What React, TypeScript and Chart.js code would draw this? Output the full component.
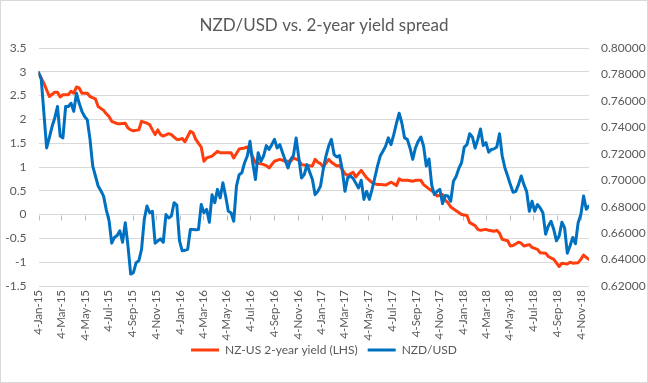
import React, { useEffect, useRef } from "react";
import { Chart, registerables } from "chart.js";

Chart.register(...registerables);

// ---- data ----
const startDate = "4-Jan-15"; // week 0 of the weekly series

const tickLabels = [
  "4-Jan-15", "4-Mar-15", "4-May-15", "4-Jul-15", "4-Sep-15", "4-Nov-15",
  "4-Jan-16", "4-Mar-16", "4-May-16", "4-Jul-16", "4-Sep-16", "4-Nov-16",
  "4-Jan-17", "4-Mar-17", "4-May-17", "4-Jul-17", "4-Sep-17", "4-Nov-17",
  "4-Jan-18", "4-Mar-18", "4-May-18", "4-Jul-18", "4-Sep-18", "4-Nov-18",
];

const yieldWeeks = [
  0, 2, 4, 6, 7, 8, 9, 11, 12, 13, 14, 15, 16, 18, 19, 21, 22, 24, 25, 26, 27, 29, 30, 32, 33, 34, 35, 37, 38, 40,
  41, 42, 43, 44, 45, 46, 48, 49, 50, 51, 52, 53, 54, 56, 57, 58, 60, 61, 62, 64, 66, 67, 69, 71, 72, 74, 76, 77, 78, 80,
  82, 84, 85, 87, 89, 91, 93, 94, 96, 97, 99, 101, 102, 103, 104, 105, 107, 108, 110, 111, 113, 114, 116, 117, 118, 119, 121, 123, 125, 126,
  128, 130, 131, 132, 133, 134, 136, 138, 139, 141, 142, 144, 146, 147, 149, 150, 151, 152, 154, 156, 158, 159, 161, 162, 163, 165, 166, 168, 169, 170,
  171, 173, 174, 175, 177, 178, 179, 181, 182, 184, 185, 187, 188, 190, 192, 193, 195, 196, 197, 199, 200, 201, 202, 203,
];
const yieldSpread = [
  2.97, 2.76, 2.48, 2.57, 2.57, 2.47, 2.52, 2.52, 2.59, 2.55, 2.68, 2.66, 2.55, 2.55, 2.48, 2.43, 2.27, 2.19, 2.12, 2.06, 1.96, 1.91, 1.91, 1.92, 1.82, 1.78, 1.76, 1.78, 1.96, 1.92,
  1.89, 1.78, 1.68, 1.78, 1.68, 1.65, 1.70, 1.68, 1.63, 1.58, 1.58, 1.60, 1.53, 1.75, 1.72, 1.58, 1.42, 1.12, 1.19, 1.23, 1.33, 1.30, 1.30, 1.30, 1.19, 1.38, 1.40, 1.42, 1.33, 1.09,
  1.07, 1.03, 0.98, 1.12, 1.16, 1.12, 1.12, 1.19, 1.14, 1.05, 1.03, 1.02, 1.16, 1.10, 1.07, 1.00, 1.16, 1.10, 1.02, 1.03, 0.86, 0.82, 0.89, 0.79, 0.86, 0.93, 0.77, 0.67, 0.63, 0.63,
  0.62, 0.68, 0.65, 0.61, 0.75, 0.72, 0.72, 0.70, 0.72, 0.72, 0.63, 0.54, 0.46, 0.39, 0.42, 0.30, 0.25, 0.16, 0.08, 0.00, -0.02, -0.17, -0.23, -0.31, -0.33, -0.31, -0.33, -0.35, -0.33, -0.39,
  -0.52, -0.55, -0.66, -0.65, -0.58, -0.60, -0.66, -0.63, -0.69, -0.73, -0.80, -0.81, -0.88, -0.94, -1.09, -1.02, -1.04, -1.00, -1.02, -1.01, -0.94, -0.85, -0.90, -0.94,
];

const nzdWeeks = [
  0, 1, 3, 4, 5, 6, 7, 8, 9, 10, 11, 12, 13, 14, 15, 16, 17, 18, 19, 20, 21, 22, 23, 24, 25, 26, 27, 28, 29, 30,
  31, 32, 33, 34, 35, 36, 37, 38, 39, 40, 41, 42, 43, 44, 45, 46, 47, 48, 49, 50, 51, 52, 53, 54, 55, 56, 57, 58, 59, 60,
  61, 62, 63, 64, 65, 66, 67, 68, 69, 70, 71, 72, 73, 74, 75, 76, 77, 78, 79, 80, 81, 82, 83, 84, 85, 86, 87, 88, 89, 90,
  92, 93, 94, 95, 96, 97, 98, 99, 101, 102, 103, 104, 105, 106, 107, 108, 109, 110, 111, 112, 113, 114, 115, 116, 117, 118, 119, 120, 121, 122,
  123, 124, 125, 126, 127, 128, 129, 130, 131, 132, 133, 134, 135, 136, 137, 138, 139, 140, 141, 142, 143, 144, 145, 146, 147, 148, 149, 150, 151, 152,
  153, 154, 155, 156, 157, 158, 159, 160, 161, 162, 163, 164, 165, 166, 167, 168, 169, 170, 171, 172, 173, 174, 175, 176, 177, 178, 179, 180, 181, 182,
  183, 184, 185, 186, 187, 188, 189, 190, 191, 192, 193, 194, 195, 196, 197, 198, 199, 200, 201, 202, 203,
];
const nzdUsd = [
  0.7816, 0.7766, 0.7244, 0.7323, 0.7406, 0.7471, 0.7557, 0.7334, 0.7320, 0.7557, 0.7557, 0.7582, 0.7521, 0.7658, 0.7582, 0.7521, 0.7482, 0.7456, 0.7309, 0.7107, 0.7032, 0.6956, 0.6920, 0.6880, 0.6776, 0.6697, 0.6524, 0.6567, 0.6582, 0.6618,
  0.6531, 0.6679, 0.6502, 0.6290, 0.6301, 0.6376, 0.6391, 0.6477, 0.6704, 0.6805, 0.6754, 0.6765, 0.6524, 0.6542, 0.6556, 0.6531, 0.6740, 0.6715, 0.6729, 0.6830, 0.6812, 0.6542, 0.6466, 0.6470, 0.6477, 0.6628, 0.6628, 0.6625, 0.6628, 0.6816,
  0.6754, 0.6780, 0.6682, 0.6891, 0.6830, 0.6931, 0.6866, 0.6981, 0.6880, 0.6765, 0.6754, 0.6690, 0.6956, 0.7042, 0.7057, 0.7132, 0.7183, 0.7294, 0.7132, 0.7006, 0.7208, 0.7143, 0.7183, 0.7262, 0.7233, 0.7269, 0.7309, 0.7244, 0.7269, 0.7208,
  0.7093, 0.7158, 0.7186, 0.7320, 0.7168, 0.7017, 0.7042, 0.7118, 0.7006, 0.6891, 0.6916, 0.6956, 0.7082, 0.7183, 0.7258, 0.7309, 0.7194, 0.7176, 0.7186, 0.7082, 0.6916, 0.7017, 0.7032, 0.7014, 0.6978, 0.6942, 0.7000, 0.6855, 0.6916, 0.6855,
  0.6931, 0.7017, 0.7107, 0.7183, 0.7219, 0.7258, 0.7320, 0.7269, 0.7345, 0.7431, 0.7507, 0.7431, 0.7320, 0.7309, 0.7244, 0.7158, 0.7244, 0.7294, 0.7327, 0.7258, 0.7107, 0.7161, 0.6963, 0.6891, 0.6916, 0.6931, 0.6823, 0.6884, 0.6880, 0.6841,
  0.6992, 0.7028, 0.7089, 0.7132, 0.7251, 0.7269, 0.7352, 0.7327, 0.7244, 0.7309, 0.7388, 0.7262, 0.7284, 0.7212, 0.7233, 0.7237, 0.7251, 0.7352, 0.7183, 0.7093, 0.7032, 0.6967, 0.6909, 0.6916, 0.6967, 0.7032, 0.6967, 0.6916, 0.6765, 0.6841,
  0.6765, 0.6816, 0.6790, 0.6754, 0.6592, 0.6654, 0.6690, 0.6628, 0.6542, 0.6578, 0.6682, 0.6639, 0.6448, 0.6502, 0.6567, 0.6520, 0.6679, 0.6740, 0.6880, 0.6780, 0.6805,
];

// ---- helpers ----
const MONTHS: Record<string, number> = {
  Jan: 0, Feb: 1, Mar: 2, Apr: 3, May: 4, Jun: 5, Jul: 6, Aug: 7, Sep: 8, Oct: 9, Nov: 10, Dec: 11,
};
function toUTC(label: string): number {
  const [d, m, y] = label.split("-");
  return Date.UTC(2000 + Number(y), MONTHS[m], Number(d));
}
const DAY = 86400000;
const t0 = toUTC(startDate);
const dayOf = (label: string) => (toUTC(label) - t0) / DAY;
const tickDays = tickLabels.map(dayOf);
const lastDay = Math.max(yieldWeeks[yieldWeeks.length - 1], nzdWeeks[nzdWeeks.length - 1]) * 7;

const ORANGE = "#FF3D0D";
const BLUE = "#0070C0";
const GRID = "#D9D9D9";
const TEXT = "#595959";
const FONT = "Lato, 'Open Sans', sans-serif";

const zeroTicks = {
  id: "zeroTicks",
  beforeDatasetsDraw(chart: any) {
    const xs = chart.scales.x;
    const ys = chart.scales.yL;
    const ctx = chart.ctx;
    const y0 = Math.round(ys.getPixelForValue(0)) + 0.5;
    ctx.save();
    ctx.strokeStyle = "#BFBFBF";
    ctx.lineWidth = 1;
    ctx.beginPath();
    tickDays.forEach((d) => {
      const px = Math.round(xs.getPixelForValue(d)) + 0.5;
      ctx.moveTo(px, y0);
      ctx.lineTo(px, y0 + 5);
    });
    ctx.stroke();
    ctx.restore();
  },
};

export default function App() {
  const ref = useRef<HTMLCanvasElement | null>(null);

  useEffect(() => {
    if (!ref.current) return;
    const chart = new Chart(ref.current, {
      type: "line",
      data: {
        datasets: [
          {
            label: "NZ-US 2-year yield (LHS)",
            data: yieldWeeks.map((w, i) => ({ x: w * 7, y: yieldSpread[i] })),
            borderColor: ORANGE,
            backgroundColor: ORANGE,
            borderWidth: 3,
            pointRadius: 0,
            tension: 0,
            yAxisID: "yL",
            order: 1,
            borderJoinStyle: "round",
            borderCapStyle: "round",
          },
          {
            label: "NZD/USD",
            data: nzdWeeks.map((w, i) => ({ x: w * 7, y: nzdUsd[i] })),
            borderColor: BLUE,
            backgroundColor: BLUE,
            borderWidth: 3,
            pointRadius: 0,
            tension: 0,
            yAxisID: "yR",
            order: 0,
            borderJoinStyle: "round",
            borderCapStyle: "round",
          },
        ],
      },
      options: {
        animation: false,
        responsive: false,
        maintainAspectRatio: false,
        layout: { padding: { top: 0, left: 0, right: 0, bottom: 16 } },
        scales: {
          x: {
            type: "linear",
            min: 0,
            max: lastDay,
            grid: { display: false, drawTicks: false },
            border: { display: false },
            afterBuildTicks: (scale: any) => {
              scale.ticks = tickDays.map((v) => ({ value: v }));
            },
            afterFit: (scale: any) => {
              scale.height = 48;
              // let the rotated date labels run past the axis box instead of being clipped
              scale._computeLabelArea = () => undefined;
            },
            ticks: {
              autoSkip: false,
              maxRotation: 90,
              minRotation: 90,
              padding: 4,
              color: TEXT,
              font: { family: FONT, size: 11.5 },
              callback: (v: any) => {
                const i = tickDays.indexOf(Number(v));
                return i >= 0 ? tickLabels[i] : "";
              },
            },
          },
          yL: {
            type: "linear",
            position: "left",
            min: -1.5,
            max: 3.5,
            grid: { color: GRID, lineWidth: 1, drawTicks: false },
            border: { display: false },
            afterFit: (scale: any) => {
              scale.width = 37.5;
            },
            ticks: {
              stepSize: 0.5,
              padding: 12,
              color: TEXT,
              font: { family: FONT, size: 12 },
              callback: (v: any) => String(Math.round(Number(v) * 10) / 10),
            },
          },
          yR: {
            type: "linear",
            position: "right",
            min: 0.62,
            max: 0.8,
            grid: { display: false, drawTicks: false },
            border: { display: false },
            afterFit: (scale: any) => {
              scale.width = 58;
            },
            ticks: {
              stepSize: 0.02,
              padding: 12,
              color: TEXT,
              font: { family: FONT, size: 12 },
              callback: (v: any) => Number(v).toFixed(5),
            },
          },
        },
        plugins: {
          title: {
            display: true,
            text: "NZD/USD vs. 2-year yield spread",
            color: TEXT,
            font: { family: FONT, size: 17, weight: "normal" },
            padding: { top: 14, bottom: 12.6 },
          },
          legend: {
            display: true,
            position: "bottom",
            reverse: true,
            labels: {
              color: TEXT,
              font: { family: FONT, size: 12 },
              usePointStyle: true,
              pointStyle: "line",
              pointStyleWidth: 28,
              boxHeight: 12,
              padding: 10,
            },
          },
          tooltip: { enabled: false },
        },
      },
      plugins: [zeroTicks],
    } as any);
    return () => chart.destroy();
  }, []);

  return (
    <div
      style={{
        position: "absolute",
        left: 0,
        top: 0,
        width: 648,
        height: 383,
        boxSizing: "border-box",
        border: "1px solid #D9D9D9",
        background: "#fff",
      }}
    >
      <canvas ref={ref} width={646} height={381} style={{ display: "block", width: 646, height: 381 }} />
    </div>
  );
}
